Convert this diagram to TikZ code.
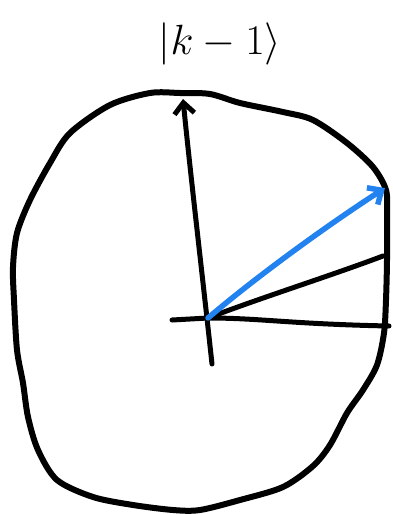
\documentclass[tikz,border=0pt]{standalone}
\usepackage{tikz}
\usetikzlibrary{arrows.meta,calc,positioning}
\definecolor{inkBlack}{RGB}{0,0,0}
\definecolor{stateBlue}{RGB}{33,130,240}

\begin{document}
\begin{tikzpicture}[
    x=1pt, y=-1pt,
    >={Straight Barb[length=11pt,width=20pt]},
    sphere/.style={draw=inkBlack, line width=6pt, line cap=round, line join=round},
    axis/.style={draw=inkBlack, line width=5pt, line cap=round, line join=round},
    state/.style={draw=stateBlue, line width=5.5pt, line cap=round, line join=round},
    ketlabel/.style={font=\Huge, scale=1.7, inner sep=0pt}
  ]
    \useasboundingbox (0,0) rectangle (393,514);

    % points of the drawing
    \coordinate (origin) at (208,318);
    \coordinate (south) at (212,364);
    \coordinate (north) at (183,99);
    \coordinate (west) at (172,320);
    \coordinate (east) at (389,326);
    \coordinate (proj) at (383,256);
    \coordinate (tip) at (385,188);

    % outline of the sphere
    \draw[sphere] plot[smooth cycle, tension=0.5] coordinates {
      (180,93) (150,93) (110,105) (70,133) (50,163) (30,200) (17,233)
      (13,267) (14,300) (17,350) (23,383) (28,417) (38,450) (57,480)
      (93,497) (133,505) (173,510) (200,510) (240,500) (283,487)
      (313,466) (330,445) (347,413) (363,390) (377,365) (384,333)
      (386,300) (387,260) (387,215) (386,190) (373,167) (347,143)
      (313,120) (283,112) (240,103) (210,94)
    };

    % axes
    \draw[axis, ->] (south) .. controls (204,290) and (190,170) .. (north);
    \draw[axis] (west) -- (origin) .. controls (260,318) and (290,324) .. (east);
    \draw[axis] (origin) .. controls (260,298) and (330,276) .. (proj);

    % state vector
    \draw[state, ->] (origin) .. controls (250,282) and (320,230) .. (tip);

    \node[ketlabel] (ket) at (220,44) {$|k-1\rangle$};
\end{tikzpicture}
\end{document}
